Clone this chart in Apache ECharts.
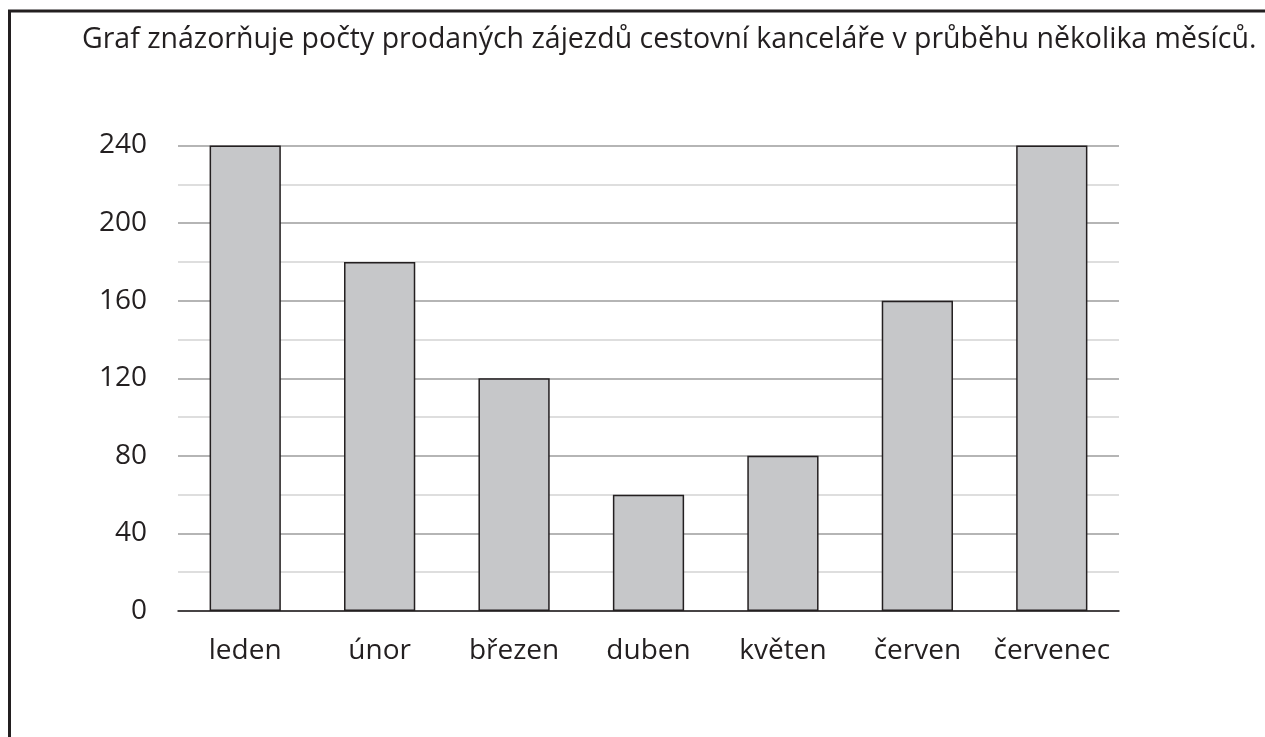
<!DOCTYPE html>
<html><head><meta charset="utf-8">
<script src="https://cdn.jsdelivr.net/npm/echarts@6/dist/echarts.min.js"></script>
<style>html,body{margin:0;padding:0;background:#fff}#c{width:1265px;height:737px}</style>
</head><body><div id="c"></div>
<script>
const titleText = 'Graf znázorňuje počty prodaných zájezdů cestovní kanceláře v průběhu několika měsíců.';
const months = ['leden','únor','březen','duben','květen','červen','červenec'];
const sales = [240, 180, 120, 60, 80, 160, 240];
const yTicks = [0, 40, 80, 120, 160, 200, 240];

const chart = echarts.init(document.getElementById('c'), null, {renderer:'canvas'});
const font = '"Open Sans", "Noto Sans", sans-serif';
chart.setOption({
  animation: false,
  backgroundColor: '#ffffff',
  title: {
    text: titleText, left: 77, top: 18,
    textStyle: {fontFamily: font, fontSize: 28.5, fontWeight: 'normal', color: '#231f20', lineHeight: 34}
  },
  graphic: [{
    type: 'polyline', silent: true,
    shape: {points: [[9.5, 737], [9.5, 11], [1265, 11]]},
    style: {stroke: '#231f20', lineWidth: 3, fill: null}
  }],
  grid: {left: 178, right: 146, top: 145.5, bottom: 126},
  xAxis: {
    type: 'category', data: months,
    axisLine: {show: true, lineStyle: {color: '#231f20', width: 1.5}},
    axisTick: {show: false},
    axisLabel: {interval: 0, margin: 26, fontFamily: font, fontSize: 28, color: '#231f20'}
  },
  yAxis: {
    type: 'value', min: yTicks[0], max: yTicks[yTicks.length-1], interval: 40,
    axisLine: {show: false}, axisTick: {show: false},
    axisLabel: {margin: 31, fontFamily: font, fontSize: 28, color: '#231f20'},
    splitLine: {show: true, lineStyle: {color: '#9d9d9d', width: 1.5}},
    minorTick: {show: false, splitNumber: 2},
    minorSplitLine: {show: true, lineStyle: {color: '#d3d3d3', width: 1.5}}
  },
  series: [{
    type: 'bar', data: sales, barWidth: '53%',
    itemStyle: {color: '#c6c7c9', borderColor: '#231f20', borderWidth: 1.5}
  }]
});
</script></body></html>
